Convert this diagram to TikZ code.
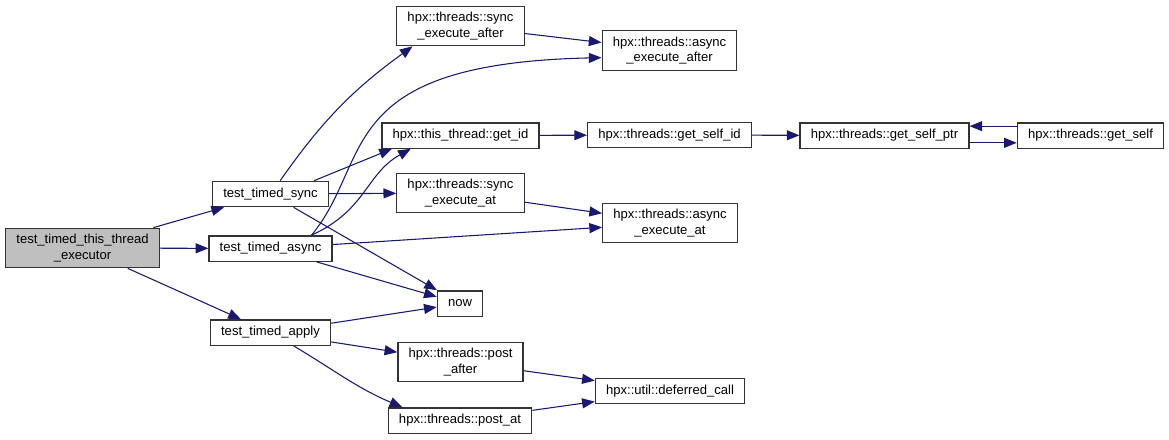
\documentclass[tikz,border=0pt]{standalone}
\usepackage{fontspec}
\setmainfont{Liberation Sans}
\usepackage{xcolor}
\usetikzlibrary{arrows.meta}

\definecolor{edgeblue}{HTML}{191970}
\definecolor{callergray}{HTML}{BFBFBF}
\definecolor{boxline}{HTML}{333333}

\begin{document}
\begin{tikzpicture}[
  x=0.75pt, y=-0.75pt,
  every node/.style={font=\fontsize{9.8}{11.5}\selectfont},
  fn/.style={draw=boxline, line width=1pt, fill=white, align=center,
             inner xsep=8pt, inner ysep=4.5pt, minimum height=19pt},
  call/.style={draw=edgeblue, line width=0.8pt,
               -{Triangle[length=9.5pt,width=7.5pt]}}
]
% 1 unit = 1 px of the call graph, y grows downwards

\useasboundingbox (0,0) rectangle (1169,439);

%% --- Caller -------------------------------------------------
\node[fn, fill=callergray] (exec) at (82.5,248)
     {test\_timed\_this\_thread\\\_executor};

%% --- Tests --------------------------------------------------
\node[fn] (sync)  at (270.5,194)   {test\_timed\_sync};
\node[fn] (async) at (270.5,248.5) {test\_timed\_async};
\node[fn] (apply) at (270.5,332.5) {test\_timed\_apply};

%% --- Second column ------------------------------------------
\node[fn] (syncafter) at (460.5,26)    {hpx::threads::sync\\\_execute\_after};
\node[fn] (getid)     at (460.5,135.5) {hpx::this\_thread::get\_id};
\node[fn] (syncat)    at (460.5,193)   {hpx::threads::sync\\\_execute\_at};
\node[fn] (now)       at (460,303.5)   {now};
\node[fn] (postafter) at (460.5,362)   {hpx::threads::post\\\_after};
\node[fn] (postat)    at (460,420.5)   {hpx::threads::post\_at};

%% --- Third column and beyond --------------------------------
\node[fn] (asyncafter) at (669.5,50.5) {hpx::threads::async\\\_execute\_after};
\node[fn] (selfid)     at (669.5,135)  {hpx::threads::get\_self\_id};
\node[fn] (asyncat)    at (670,223)    {hpx::threads::async\\\_execute\_at};
\node[fn] (deferred)   at (670,391)    {hpx::util::deferred\_call};
\node[fn] (selfptr)    at (884.5,135.5)  {hpx::threads::get\_self\_ptr};
\node[fn] (getself)    at (1090.5,135.5) {hpx::threads::get\_self};

%% --- Calls from the caller ----------------------------------
\draw[call] (exec) -- (sync);
\draw[call] (exec) -- (async);
\draw[call] (exec) -- (apply);

%% --- Calls from test_timed_sync -----------------------------
\draw[call] (sync.54) to[out=55, in=216] (syncafter.203);
\draw[call] (sync.17) -- (getid.191);
\draw[call] (sync) -- (syncat);
\draw[call] (sync) -- (now);

%% --- Calls from test_timed_async ----------------------------
\draw[call] (async.18) .. controls +(62,-75) and +(-270,6) .. (asyncafter.186);
\draw[call] (async.18) .. controls +(55,-25) and +(-45,25) .. (getid.195);
\draw[call] (async) -- (asyncat);
\draw[call] (async) -- (now);

%% --- Calls from test_timed_apply ----------------------------
\draw[call] (apply) -- (now);
\draw[call] (apply) -- (postafter);
\draw[call] (apply.-30) to[out=-31, in=157] (postat.167);

%% --- Deeper calls -------------------------------------------
\draw[call] (syncafter) -- (asyncafter);
\draw[call] (syncat) -- (asyncat);
\draw[call] (getid) -- (selfid);
\draw[call] (selfid) -- (selfptr);
\draw[call] ([yshift=-5.5pt]selfptr.east) -- ([yshift=-5.5pt]getself.west);
\draw[call] ([yshift=7pt]getself.west) -- ([yshift=7pt]selfptr.east);
\draw[call] (postafter) -- (deferred);
\draw[call] (postat) -- (deferred);

\end{tikzpicture}
\end{document}
